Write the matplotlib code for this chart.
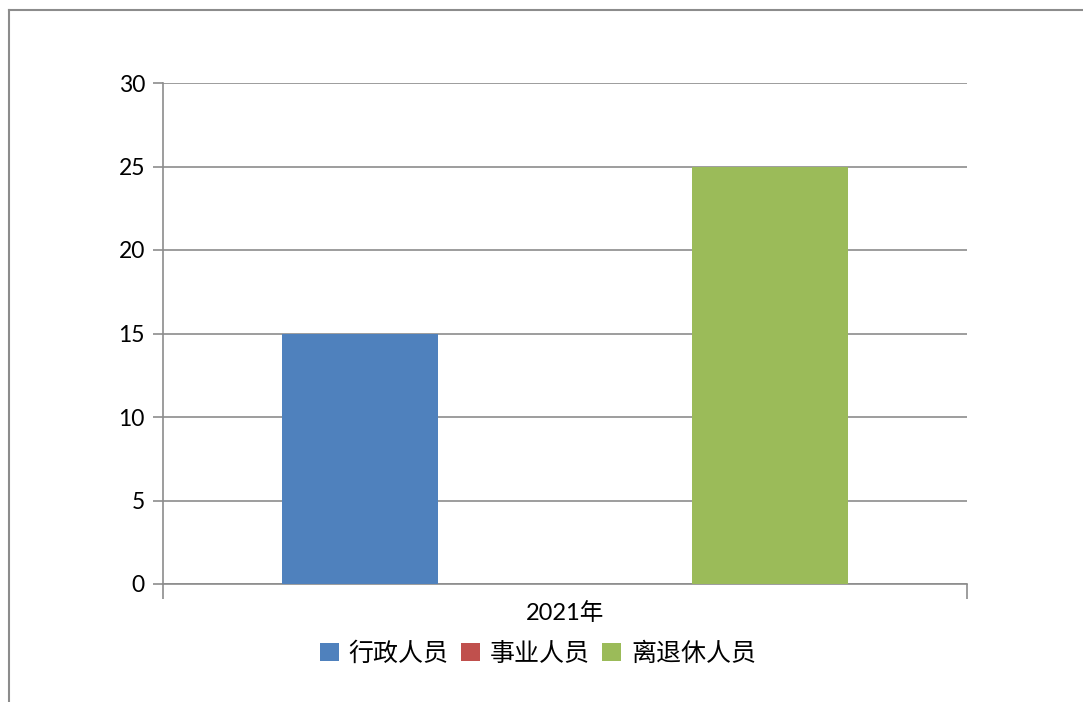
import matplotlib.pyplot as plt
from matplotlib.lines import Line2D

plt.rcParams['font.family'] = ['Lato', 'Noto Sans CJK SC', 'DejaVu Sans']

categories = ['2021年']
series_names = ['行政人员', '事业人员', '离退休人员']
series_values = [15, 0, 25]
colors = ['#4f81bd', '#c0504d', '#9bbb59']
y_ticks = [0, 5, 10, 15, 20, 25, 30]

fig = plt.figure(figsize=(10.83, 7.02), dpi=100)
ax = fig.add_axes([163 / 1083, 1 - 584 / 702, (967 - 163) / 1083, (584 - 83) / 702])

# outer chart frame (only left and top visible in the reference)
fig.add_artist(Line2D([9 / 1083, 9 / 1083], [0, 1 - 10 / 702], transform=fig.transFigure,
                      color='#8c8c8c', lw=1.5))
fig.add_artist(Line2D([9 / 1083, 1], [1 - 10 / 702, 1 - 10 / 702], transform=fig.transFigure,
                      color='#8c8c8c', lw=1.5))

width = 0.195
offsets = [-0.255, 0, 0.255]
for name, val, c, off in zip(series_names, series_values, colors, offsets):
    ax.bar(0 + off, val, width=width, color=c, label=name, zorder=3)

ax.set_xlim(-0.5, 0.5)
ax.set_ylim(0, 30)
ax.set_yticks(y_ticks)
ax.yaxis.grid(True, color='#8c8c8c', lw=1.2, zorder=0)

for s in ['top', 'right']:
    ax.spines[s].set_visible(False)
for s in ['left', 'bottom']:
    ax.spines[s].set_color('#8c8c8c')
    ax.spines[s].set_linewidth(1.2)

ax.tick_params(axis='y', length=7, width=1.2, color='#8c8c8c', labelsize=16.5, pad=6)
ax.set_xticks([-0.5, 0.5])
ax.set_xticklabels(['', ''])
ax.tick_params(axis='x', length=11, width=1.2, color='#8c8c8c')
ax.set_xticks([0], minor=True)
ax.set_xticklabels(categories, minor=True, fontsize=17)
ax.tick_params(axis='x', which='minor', length=0, pad=13)

ax.legend(loc='center', bbox_to_anchor=(538 / 1083, 1 - 653 / 702), bbox_transform=fig.transFigure,
          ncol=3, frameon=False, fontsize=18, handlelength=0.75, handleheight=0.75,
          handletextpad=0.4, columnspacing=0.5)

fig.savefig('out.png', dpi=100)
